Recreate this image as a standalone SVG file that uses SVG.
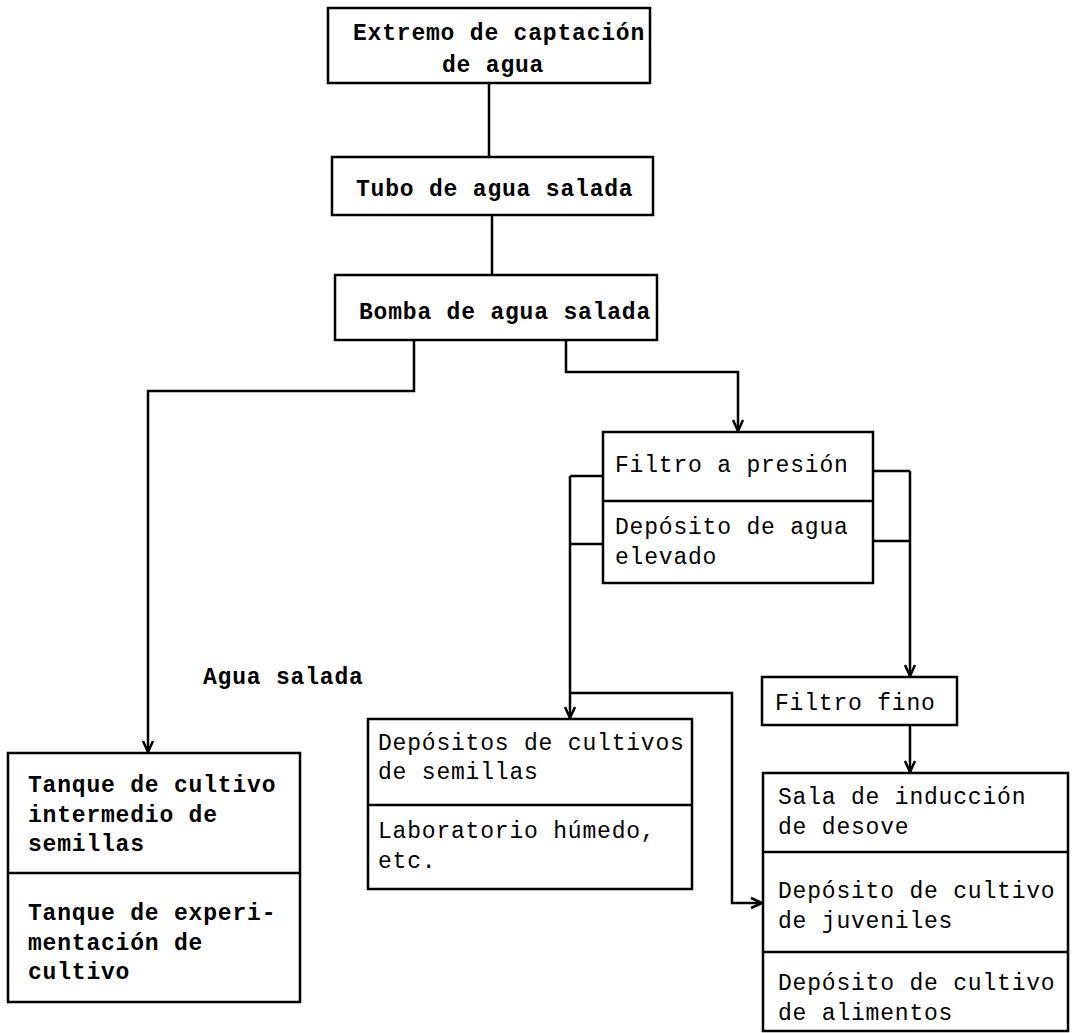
<svg xmlns="http://www.w3.org/2000/svg" width="1073" height="1033" viewBox="0 0 1073 1033">
<style>
.box{fill:#fff;stroke:#000;stroke-width:2.5}
.div{stroke:#000;stroke-width:2.5;fill:none}
.t{font-family:"Liberation Mono","DejaVu Sans Mono",monospace;font-size:23px;letter-spacing:0.8px;fill:#000;font-weight:bold}
.tl{font-family:"Liberation Mono","DejaVu Sans Mono",monospace;font-size:23px;letter-spacing:0.8px;fill:#000}
.c{fill:none;stroke:#000;stroke-width:2.5}
</style>
<defs>
<marker id="arr" markerUnits="userSpaceOnUse" markerWidth="16" markerHeight="16" viewBox="-13 -8 16 16" refX="0" refY="0" orient="auto">
<path d="M-11,-5 L0,0 L-11,5" fill="none" stroke="#000" stroke-width="2.5"/>
</marker>
</defs>
<rect width="1073" height="1033" fill="#fff"/>
<g id="connectors">
<path class="c" d="M489,83 V157"/>
<path class="c" d="M492,215 V275"/>
<path class="c" d="M414,340 V391 H148 V752" marker-end="url(#arr)"/>
<path class="c" d="M566,340 V372 H738 V431" marker-end="url(#arr)"/>
<path class="c" d="M603,476 H570 M603,544 H570"/>
<path class="c" d="M570,476 V718" marker-end="url(#arr)"/>
<path class="c" d="M570,693 H732 V903 H762" marker-end="url(#arr)"/>
<path class="c" d="M873,471 H910 M873,541 H910"/>
<path class="c" d="M910,471 V676" marker-end="url(#arr)"/>
<path class="c" d="M910,725 V772" marker-end="url(#arr)"/>
</g>
<g id="extremo">
<rect class="box" x="328" y="8" width="322" height="75"/>
<text class="t" x="353" y="40">Extremo de captación</text>
<text class="t" x="442" y="72">de agua</text>
</g>
<g id="tubo">
<rect class="box" x="332" y="157" width="321" height="58"/>
<text class="t" x="356" y="196">Tubo de agua salada</text>
</g>
<g id="bomba">
<rect class="box" x="335" y="275" width="322" height="65"/>
<text class="t" x="359" y="319">Bomba de agua salada</text>
</g>
<g id="filtro-presion">
<rect class="box" x="603" y="432" width="270" height="151"/>
<line class="div" x1="603" y1="501" x2="873" y2="501"/>
<text class="tl" x="615" y="472">Filtro a presión</text>
<text class="tl" x="615" y="534">Depósito de agua</text>
<text class="tl" x="615" y="564">elevado</text>
</g>
<text class="t" id="label-agua" x="203" y="684">Agua salada</text>
<g id="tanque">
<rect class="box" x="8" y="753" width="292" height="249"/>
<line class="div" x1="8" y1="873" x2="300" y2="873"/>
<text class="t" x="28" y="792">Tanque de cultivo</text>
<text class="t" x="28" y="822">intermedio de</text>
<text class="t" x="28" y="851">semillas</text>
<text class="t" x="28" y="920">Tanque de experi-</text>
<text class="t" x="28" y="950">mentación de</text>
<text class="t" x="28" y="979">cultivo</text>
</g>
<g id="depositos-semillas">
<rect class="box" x="368" y="719" width="324" height="170"/>
<line class="div" x1="368" y1="805" x2="692" y2="805"/>
<text class="tl" x="378" y="750">Depósitos de cultivos</text>
<text class="tl" x="378" y="779">de semillas</text>
<text class="tl" x="378" y="838">Laboratorio húmedo,</text>
<text class="tl" x="378" y="868">etc.</text>
</g>
<g id="filtro-fino">
<rect class="box" x="762" y="677" width="195" height="48"/>
<text class="tl" x="775" y="710">Filtro fino</text>
</g>
<g id="sala">
<rect class="box" x="763" y="773" width="305" height="258"/>
<line class="div" x1="763" y1="852" x2="1068" y2="852"/>
<line class="div" x1="763" y1="952" x2="1068" y2="952"/>
<text class="tl" x="778" y="804">Sala de inducción</text>
<text class="tl" x="778" y="834">de desove</text>
<text class="tl" x="778" y="898">Depósito de cultivo</text>
<text class="tl" x="778" y="928">de juveniles</text>
<text class="tl" x="778" y="990">Depósito de cultivo</text>
<text class="tl" x="778" y="1020">de alimentos</text>
</g>
</svg>
